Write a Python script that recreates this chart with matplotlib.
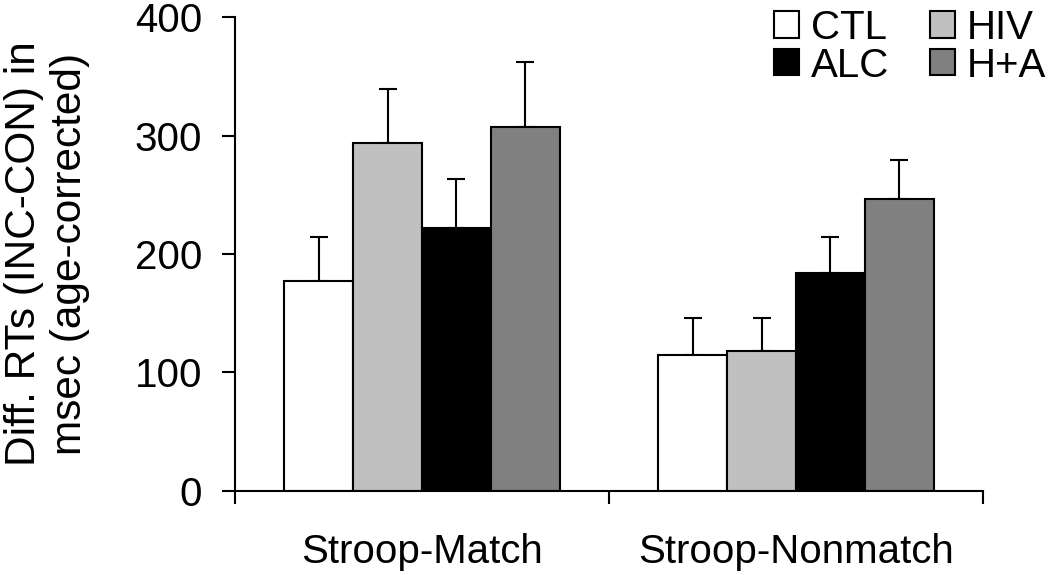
import numpy as np
import matplotlib
matplotlib.use('Agg')
import matplotlib.pyplot as plt
from matplotlib.patches import Patch

plt.rcParams['font.family'] = ['Liberation Sans', 'DejaVu Sans']

# data
conditions = ['Stroop-Match', 'Stroop-Nonmatch']
groups = ['CTL', 'HIV', 'ALC', 'H+A']
colors = ['#ffffff', '#c0c0c0', '#000000', '#808080']
means = {
    'CTL': [177, 115],
    'HIV': [294, 118],
    'ALC': [222, 184],
    'H+A': [307, 246],
}
errs = {
    'CTL': [37, 31],
    'HIV': [45, 28],
    'ALC': [41, 30],
    'H+A': [55, 33],
}

fig = plt.figure(figsize=(10.5, 5.75), dpi=100)
ax = fig.add_axes([0.2238, 0.1461, 0.7124, 0.8243])

x = np.arange(len(conditions))
w = 0.184
for i, g in enumerate(groups):
    pos = x + (i - 1.5) * w
    ax.bar(pos, means[g], width=w, color=colors[i], edgecolor='black',
           linewidth=1.5, zorder=2)
    ax.errorbar(pos, means[g], yerr=[np.zeros(len(x)), errs[g]], fmt='none',
                ecolor='black', elinewidth=1.5, capsize=6.5, capthick=1.5,
                zorder=1)

ax.set_xlim(-0.5, 1.5)
ax.set_ylim(0, 400)
ax.set_yticks([0, 100, 200, 300, 400])
ax.set_xticks(x)
ax.set_xticklabels(conditions)
ax.set_xticks([-0.5, 0.5, 1.5], minor=True)
ax.tick_params(axis='x', which='major', length=0, pad=30, labelsize=29)
ax.tick_params(axis='x', which='minor', length=9.5, width=1.5, direction='out')
ax.tick_params(axis='y', length=9.5, width=1.5, direction='out', pad=14,
               labelsize=29)
for s in ['top', 'right']:
    ax.spines[s].set_visible(False)
for s in ['left', 'bottom']:
    ax.spines[s].set_linewidth(1.5)

ax.set_ylabel('Diff. RTs (INC-CON) in\nmsec (age-corrected)', fontsize=30.5,
              linespacing=1.2, labelpad=32)

order = [0, 2, 1, 3]
handles = [Patch(facecolor=colors[k], edgecolor='black', linewidth=1.5,
                 label=groups[k]) for k in order]
fig.legend(handles=handles, ncol=2, loc='upper right',
           bbox_to_anchor=(1.0, 0.992), frameon=False, fontsize=29,
           handlelength=0.62, handleheight=0.62, handletextpad=0.3,
           columnspacing=1.0, labelspacing=0.0, borderaxespad=0.0,
           borderpad=0.1)

fig.savefig('out.png', dpi=100)
